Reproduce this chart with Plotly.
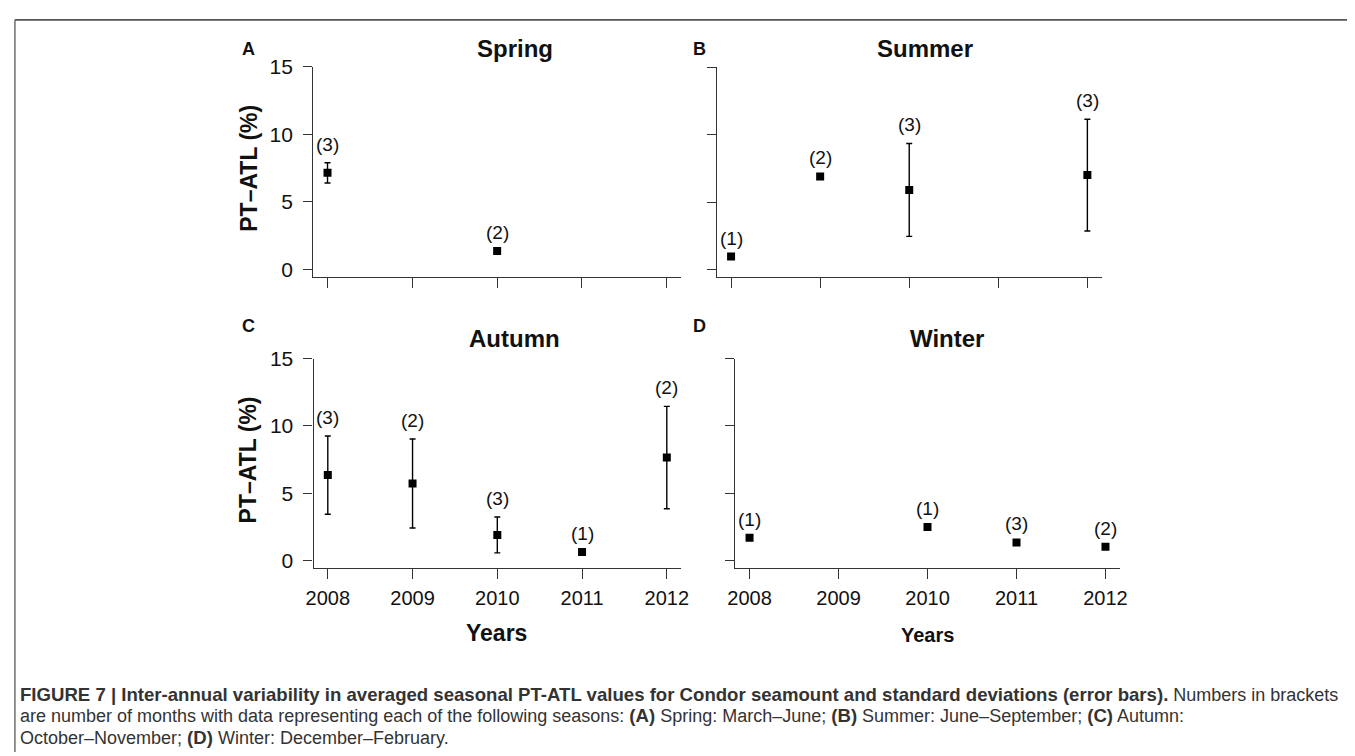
import plotly.graph_objects as go

# ---------------- data ----------------
year_ticks = [2008, 2009, 2010, 2011, 2012]
y_ticks = [0, 5, 10, 15]

spring_years = [2008, 2010]
spring_mean = [7.15, 1.36]
spring_sd = [0.75, 0.0]
spring_n = ["(3)", "(2)"]

summer_years = [2008, 2009, 2010, 2012]
summer_mean = [0.95, 6.9, 5.9, 7.0]
summer_sd = [0.0, 0.0, 3.45, 4.15]
summer_n = ["(1)", "(2)", "(3)", "(3)"]

autumn_years = [2008, 2009, 2010, 2011, 2012]
autumn_mean = [6.35, 5.73, 1.91, 0.65, 7.65]
autumn_sd = [2.9, 3.3, 1.33, 0.0, 3.8]
autumn_n = ["(3)", "(2)", "(3)", "(1)", "(2)"]

winter_years = [2008, 2010, 2011, 2012]
winter_mean = [1.7, 2.5, 1.36, 1.04]
winter_sd = [0.0, 0.0, 0.0, 0.0]
winter_n = ["(1)", "(1)", "(3)", "(2)"]

titles = ["Spring", "Summer", "Autumn", "Winter"]
letters = ["A", "B", "C", "D"]

# caption segments: (text, bold)
caption_lines = [
    [("FIGURE 7 | Inter-annual variability in averaged seasonal PT-ATL values for Condor seamount and standard deviations (error bars).", True),
     (" Numbers in brackets", False)],
    [("are number of months with data representing each of the following seasons: ", False),
     ("(A)", True), (" Spring: March–June; ", False),
     ("(B)", True), (" Summer: June–September; ", False),
     ("(C)", True), (" Autumn:", False)],
    [("October–November; ", False), ("(D)", True), (" Winter: December–February.", False)],
]

# ---------------- layout helpers ----------------
W, H = 1355, 756
FONT = "Liberation Sans, Arial, Helvetica, sans-serif"
AX = "#333333"


def px_x(v):
    return v / W


def px_y(v):
    return 1 - v / H


# panel boxes in pixels: (left, right, top, bottom)
boxes = [
    (309, 681, 56, 270.7),
    (717.3, 1106.7, 56.5, 270.7),
    (309.3, 681, 354, 568.3),
    (736, 1125, 354, 568.3),
]
xranges = [
    [2007.833, 2012.167],
    [2007.84, 2012.16],
    [2007.833, 2012.167],
    [2007.84, 2012.16],
]
yrange = [-0.56, 15]

series = [
    (spring_years, spring_mean, spring_sd, spring_n),
    (summer_years, summer_mean, summer_sd, summer_n),
    (autumn_years, autumn_mean, autumn_sd, autumn_n),
    (winter_years, winter_mean, winter_sd, winter_n),
]

fig = go.Figure()
annotations = []
layout_axes = {}

for i, ((xs, ms, sds, ns), box) in enumerate(zip(series, boxes)):
    k = "" if i == 0 else str(i + 1)
    xa, ya = "x" + k, "y" + k
    fig.add_trace(
        go.Scatter(
            x=xs,
            y=ms,
            xaxis=xa,
            yaxis=ya,
            mode="markers",
            marker=dict(symbol="square", size=8, color="black"),
            error_y=dict(type="data", array=sds, visible=True, color="black",
                         thickness=1.4, width=3),
            showlegend=False,
            hoverinfo="x+y",
        )
    )
    for x, m, s, n in zip(xs, ms, sds, ns):
        annotations.append(dict(
            x=x, y=m + s, xref=xa, yref=ya, text=n, showarrow=False,
            yanchor="bottom", xanchor="center", yshift=6,
            font=dict(family=FONT, size=19, color="#111"),
        ))
    left, right, top, bottom = box
    show_x_labels = i >= 2
    show_y_labels = i in (0, 2)
    layout_axes["xaxis" + k] = dict(
        domain=[px_x(left), px_x(right)],
        range=xranges[i],
        anchor=ya,
        tickmode="array",
        tickvals=year_ticks,
        ticktext=[str(y) for y in year_ticks],
        showticklabels=show_x_labels,
        ticks="outside", ticklen=10, tickwidth=1.4, tickcolor=AX,
        showline=True, linecolor=AX, linewidth=1.4,
        showgrid=False, zeroline=False,
        tickfont=dict(family=FONT, size=20, color="#111"),
        ticklabelstandoff=2,
        fixedrange=True,
    )
    layout_axes["yaxis" + k] = dict(
        domain=[px_y(bottom), px_y(top)],
        range=yrange,
        anchor=xa,
        tickmode="array",
        tickvals=y_ticks,
        showticklabels=show_y_labels,
        ticks="outside", ticklen=9, tickwidth=1.4, tickcolor=AX,
        showline=True, linecolor=AX, linewidth=1.4,
        showgrid=False, zeroline=False,
        tickfont=dict(family=FONT, size=21, color="#111"),
        ticklabelstandoff=6,
        fixedrange=True,
    )


def paper_text(x, y, text, size, bold=True, angle=0, xanchor="center", color="#111"):
    annotations.append(dict(
        x=px_x(x), y=px_y(y), xref="paper", yref="paper",
        text=("<b>%s</b>" % text) if bold else text, showarrow=False,
        xanchor=xanchor, yanchor="middle", textangle=angle,
        font=dict(family=FONT, size=size, color=color),
    ))


# titles and panel letters
paper_text(513, 37, titles[0], 24)
paper_text(928, 37, titles[1], 24)
paper_text(513, 334, titles[2], 24)
paper_text(950, 334, titles[3], 24)
paper_text(243, 38, letters[0], 18)
paper_text(700, 38, letters[1], 18)
paper_text(243, 321, letters[2], 18)
paper_text(700, 321, letters[3], 18)

# axis titles
paper_text(243, 160, "PT–ATL (%)", 23, angle=-90)
paper_text(243, 458, "PT–ATL (%)", 23, angle=-90)
paper_text(494, 634, "Years", 23)
paper_text(930, 636, "Years", 20)

# caption
for j, segs in enumerate(caption_lines):
    html = "".join(
        ('<span style="font-size:18.6px"><b>%s</b></span>' % t) if b else t
        for t, b in segs
    )
    paper_text(10, 697 + 22 * j, html, 18, bold=False, xanchor="left", color="#333")

shapes = [
    dict(type="line", xref="paper", yref="paper", x0=px_x(7), x1=1, y0=px_y(8), y1=px_y(8),
         line=dict(color="#555", width=1.6)),
    dict(type="line", xref="paper", yref="paper", x0=px_x(7), x1=px_x(7), y0=px_y(8), y1=0,
         line=dict(color="#777", width=1.6)),
]

fig.update_layout(
    width=W, height=H,
    margin=dict(l=0, r=0, t=0, b=0),
    paper_bgcolor="white", plot_bgcolor="white",
    annotations=annotations, shapes=shapes,
    font=dict(family=FONT),
    **layout_axes,
)

fig.write_html(
    "out.html",
    config={"displayModeBar": False},
    post_script="document.body.style.margin='0px';document.body.style.overflow='hidden';",
)
